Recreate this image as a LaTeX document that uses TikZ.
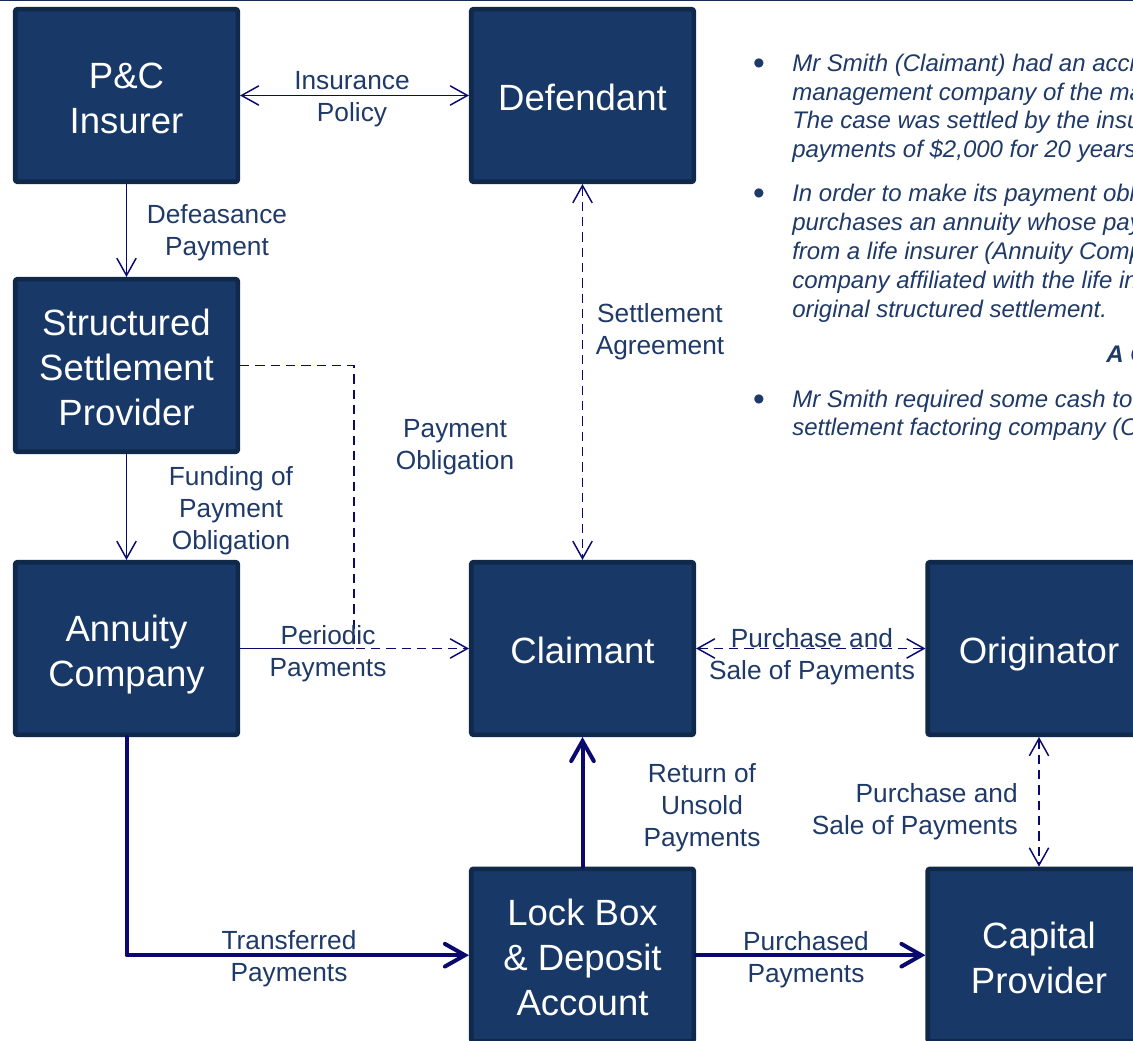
\documentclass[tikz,border=0pt]{standalone}
\usepackage{fontspec}
\setmainfont{Liberation Sans}
\usetikzlibrary{arrows.meta}
\definecolor{boxfill}{RGB}{24,56,103}
\definecolor{boxline}{RGB}{16,40,74}
\definecolor{lbl}{RGB}{31,58,104}
\definecolor{arr}{RGB}{10,10,110}
\definecolor{topline}{RGB}{22,44,84}
\newcommand{\firststrut}{\rule{0pt}{29pt}}
\newcommand{\laststrut}{\rule[-6pt]{0pt}{6pt}}
\begin{document}
\begin{tikzpicture}[x=0.75pt,y=-0.75pt,
  entity/.style={draw=boxline, fill=boxfill, line width=3.4pt, rounded corners=1.5pt,
    minimum width=166.9pt, minimum height=129.4pt, inner sep=0pt, text=white,
    align=center, font=\fontsize{27.4pt}{33.75pt}\selectfont},
  lab/.style={text=lbl, align=center, inner sep=0pt, font=\fontsize{19.7pt}{24pt}\selectfont},
  thinarrow/.style={draw=arr, line width=1.1pt, >={Straight Barb[length=13pt,width=14.5pt]}},
  dasharrow/.style={thinarrow, dash pattern=on 7pt off 4.5pt},
  thickarrow/.style={draw=arr, line width=3pt, line join=round, line cap=round,
    >={Straight Barb[length=15pt,width=17pt,line cap=round]}},
  btext/.style={text=lbl, anchor=base west, inner sep=0pt, font=\fontsize{18pt}{21.4pt}\selectfont\itshape},
  bdot/.style={text=lbl, anchor=base, inner sep=0pt, font=\fontsize{25pt}{25pt}\selectfont}
]
\useasboundingbox (0,0) rectangle (1133,1041);
\clip (0,0) rectangle (1133,1041);
\fill[white] (0,0) rectangle (1133,1041);
\draw[topline, line width=1.5pt] (0,0.5) -- (1133,0.5);

% boxes
\node[entity] (pc)   at (126.5,95.5)  {\firststrut P\&C\\Insurer\laststrut};
\node[entity] (def)  at (582.5,95.5)  {\firststrut Defendant\laststrut};
\node[entity] (ssp)  at (126.5,365.5) {\firststrut Structured\\Settlement\\Provider\laststrut};
\node[entity] (ann)  at (126.5,648.5) {\firststrut Annuity\\Company\laststrut};
\node[entity] (cl)   at (582.5,648.5) {\firststrut Claimant\laststrut};
\node[entity] (orig) at (1039,648.5)  {\firststrut Originator\laststrut};
\node[entity] (lb)   at (582.5,955.2) {\firststrut Lock Box\\\& Deposit\\Account\laststrut};
\node[entity] (cap)  at (1039,955.2)  {\firststrut Capital\\Provider\laststrut};

% connectors
\coordinate (pj) at (354,648.5);
\draw[thinarrow,<->] (pc.east) -- (def.west);
\draw[thinarrow,->] (pc.south) -- (ssp.north);
\draw[dasharrow,<->] (def.south) -- (cl.north);
\draw[thinarrow,->] (ssp.south) -- (ann.north);
\draw[dasharrow,->] (ssp.east) -| (pj) -- (cl.west);
\draw[thinarrow] (ann.east) -- (pj);
\draw[dasharrow,<->] (cl.east) -- (orig.west);
\draw[dasharrow,<->] (orig.south) -- (cap.north);
\draw[thickarrow,->] (ann.south) |- (lb.west);
\draw[thickarrow,->] (lb.north) -- (cl.south);
\draw[thickarrow,->] (lb.east) -- (cap.west);

% connector labels
\node[lab] (l1)  at (352,99)   {Insurance\\Policy};
\node[lab] (l2)  at (217,233)  {Defeasance\\Payment};
\node[lab] (l3)  at (660,332)  {Settlement\\Agreement};
\node[lab] (l4)  at (231,511)  {Funding of\\Payment\\Obligation};
\node[lab] (l5)  at (455,447)  {Payment\\Obligation};
\node[lab] (l6)  at (328,654)  {Periodic\\Payments};
\node[lab] (l7)  at (812,657)  {Purchase and\\Sale of Payments};
\node[lab,align=right,anchor=east] (l8) at (1018,812) {Purchase and\\Sale of Payments};
\node[lab] (l9)  at (289,959)  {Transferred\\Payments};
\node[lab] (l10) at (702,808)  {Return of\\Unsold\\Payments};
\node[lab] (l11) at (806,960)  {Purchased\\Payments};

% bullet text
\node[bdot] (d1) at (759,75)    {•};
\node[bdot] (d2) at (759,205)   {•};
\node[bdot] (d3) at (759,410.5) {•};
\node[btext] (b1)  at (792,72)    {Mr Smith (Claimant) had an accident};
\node[btext] (b2)  at (792,100.5) {management company of the mall};
\node[btext] (b3)  at (792,129)   {The case was settled by the insurer};
\node[btext] (b4)  at (792,157.5) {payments of \$2,000 for 20 years};
\node[btext] (b5)  at (792,202)   {In order to make its payment obligation};
\node[btext] (b6)  at (792,231)   {purchases an annuity whose payments};
\node[btext] (b7)  at (792,260)   {from a life insurer (Annuity Company)};
\node[btext] (b8)  at (792,289)   {company affiliated with the life insurer};
\node[btext] (b9)  at (792,317.5) {original structured settlement.};
\node[btext,font=\fontsize{18pt}{21.4pt}\selectfont\bfseries\itshape] (b10) at (1106,363) {A Case};
\node[btext] (b11) at (792,407.5) {Mr Smith required some cash to};
\node[btext] (b12) at (792,436)   {settlement factoring company (Originator)};
\end{tikzpicture}
\end{document}
